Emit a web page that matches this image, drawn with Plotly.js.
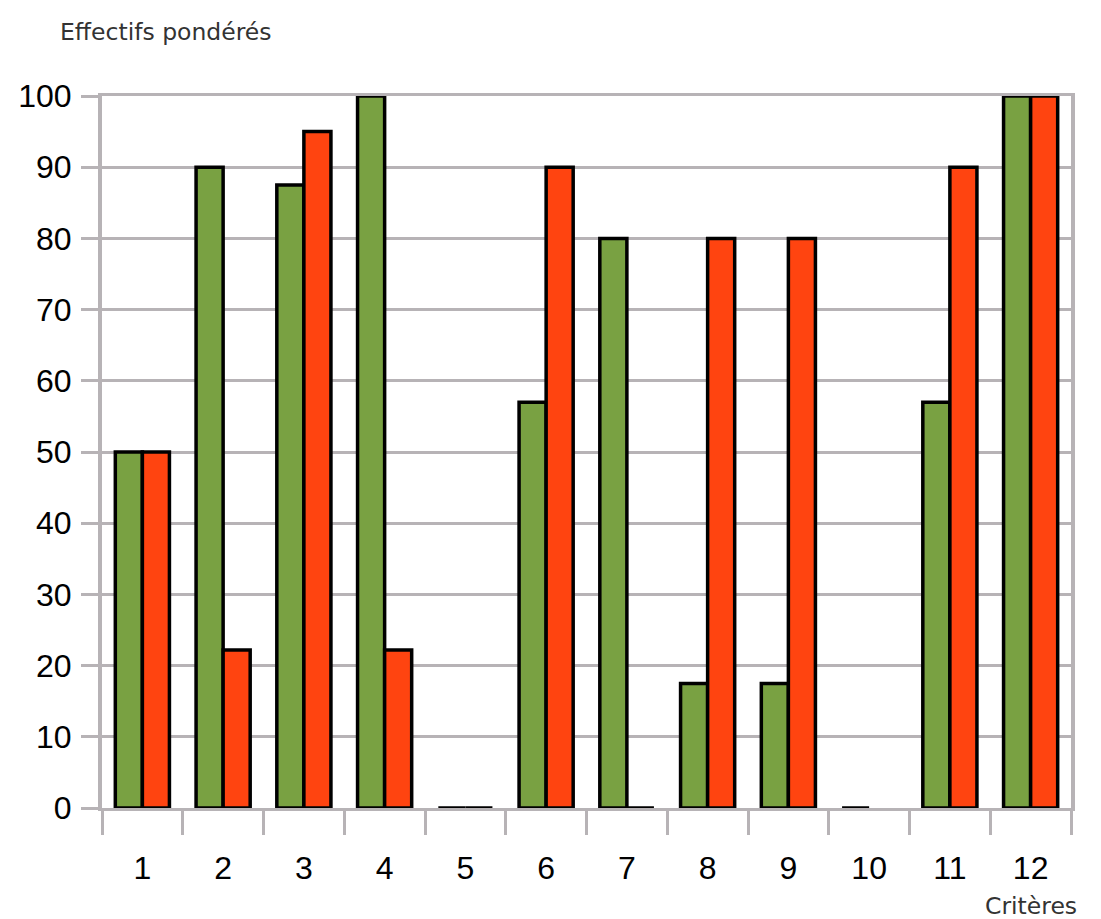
<!DOCTYPE html>
<html><head><meta charset="utf-8">
<script src="https://cdn.plot.ly/plotly-3.0.1.min.js"></script>
<style>html,body{margin:0;padding:0;background:#fff}</style>
</head><body>
<div id="chart" style="width:1101px;height:919px"></div>
<script>
const categories = ["1","2","3","4","5","6","7","8","9","10","11","12"];
const greenValues = [50, 90, 87.5, 100, 0, 57, 80, 17.5, 17.5, 0, 57, 100];
const redValues = [50, 22.2, 95, 22.2, 0, 90, 0, 80, 80, null, 90, 100];
const yTicks = [0,10,20,30,40,50,60,70,80,90,100];
const titleText = "Effectifs pondérés";
const xTitleText = "Critères";

const grid = "#b7b3b6";
const traces = [
  {type:"bar", x:categories, y:greenValues, name:"A",
   marker:{color:"#79a142", line:{color:"#000", width:3.5}}},
  {type:"bar", x:categories, y:redValues, name:"B",
   marker:{color:"#ff4410", line:{color:"#000", width:3.5}}}
];
const layout = {
  width:1101, height:919,
  margin:{l:102, r:30, t:96, b:111},
  paper_bgcolor:"#fff", plot_bgcolor:"#fff",
  showlegend:false,
  barmode:"group", bargap:0.33, bargroupgap:0,
  title:{text:titleText, xref:"container", yref:"container", x:60/1101, xanchor:"left",
         y:1-32/919, yanchor:"middle",
         font:{family:"DejaVu Sans", size:23.5, color:"#333"}},
  xaxis:{type:"category", tickson:"boundaries", ticks:"outside", ticklen:24, tickwidth:3,
         tickcolor:grid, showgrid:false, showline:true, linecolor:grid, linewidth:3, mirror:true,
         ticklabelstandoff:30,
         tickfont:{family:"Liberation Sans", size:32, color:"#000"}, zeroline:false},
  yaxis:{range:[0,100], tickvals:yTicks, ticktext:yTicks.map(String), ticks:"outside", ticklen:17,
         tickwidth:3, tickcolor:grid, showgrid:true, gridcolor:grid, gridwidth:3,
         showline:true, linecolor:grid, linewidth:4, mirror:true, zeroline:false,
         ticklabelstandoff:3,
         tickfont:{family:"Liberation Sans", size:32, color:"#000"}},
  annotations:[{text:xTitleText, xref:"paper", yref:"paper", x:1, xanchor:"left", xshift:-88,
                y:0, yshift:-98, yanchor:"middle", showarrow:false,
                font:{family:"DejaVu Sans", size:23.5, color:"#333"}}]
};
Plotly.newPlot("chart", traces, layout, {displayModeBar:false, staticPlot:true});
</script>
</body></html>
